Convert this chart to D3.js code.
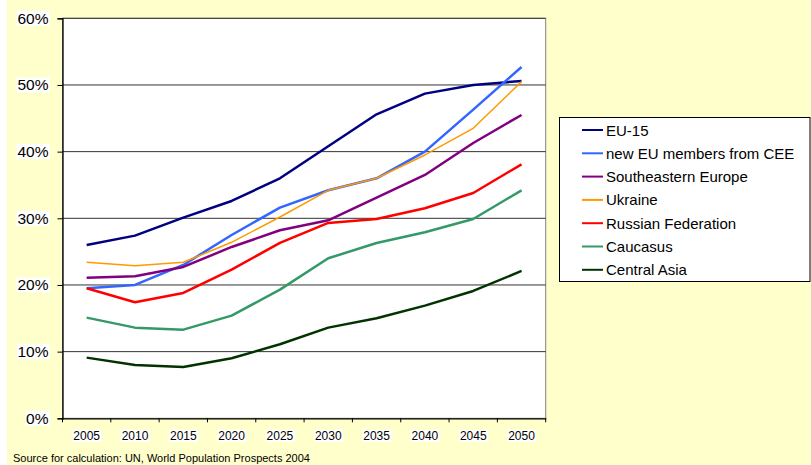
<!DOCTYPE html>
<html lang="en">
<head>
<meta charset="UTF-8">
<title>Population share chart</title>
<script src="https://d3js.org/d3.v7.min.js"></script>
<style>
  body { margin: 0; background: #fff; }
  svg { display: block; font-family: "Liberation Sans", Arial, sans-serif; }
</style>
</head>
<body>
<svg id="chart" width="811" height="465"></svg>
<script>
// data (percent)
const years = ["2005", "2010", "2015", "2020", "2025", "2030", "2035", "2040", "2045", "2050"];
const seriesNames = ["EU-15", "new EU members from CEE", "Southeastern Europe", "Ukraine",
                     "Russian Federation", "Caucasus", "Central Asia"];
const eu15        = [26.0, 27.4, 30.1, 32.6, 36.0, 40.8, 45.6, 48.7, 50.0, 50.6];
const newEU       = [19.5, 20.0, 23.0, 27.5, 31.6, 34.2, 36.0, 40.0, 46.3, 52.7];
const seEurope    = [21.1, 21.3, 22.7, 25.7, 28.2, 29.7, 33.1, 36.5, 41.3, 45.5];
const ukraine     = [23.4, 22.9, 23.4, 26.4, 30.2, 34.2, 36.0, 39.5, 43.5, 50.5];
const russia      = [19.5, 17.4, 18.8, 22.3, 26.3, 29.3, 29.9, 31.5, 33.8, 38.1];
const caucasus    = [15.1, 13.6, 13.3, 15.4, 19.3, 24.0, 26.3, 27.9, 29.9, 34.2];
const centralAsia = [9.1, 8.0, 7.7, 9.0, 11.1, 13.6, 15.0, 16.9, 19.1, 22.1];
const yTicks = [0, 10, 20, 30, 40, 50, 60];
const sourceNote = "Source for calculation: UN, World Population Prospects 2004";

const colors = ["#000080", "#3366FF", "#800080", "#FF9900", "#FF0000", "#339966", "#003300"];
const widths = [2.5, 2.5, 2.5, 1.5, 2.5, 2.5, 2.5];
const values = [eu15, newEU, seEurope, ukraine, russia, caucasus, centralAsia];
const series = seriesNames.map((name, i) => ({ name, color: colors[i], width: widths[i], values: values[i] }));

const svg = d3.select("#chart");
svg.append("rect").attr("x", 7).attr("y", 0).attr("width", 804).attr("height", 465).attr("fill", "#FFFFCC");

const pLeft = 62.5, pRight = 545.7, pTop = 18.3, pBottom = 418.3;
const x = d3.scaleBand().domain(years).range([pLeft, pRight]);
const y = d3.scaleLinear().domain([0, 60]).range([pBottom, pTop]);

// plot area
svg.append("rect").attr("x", pLeft).attr("y", pTop).attr("width", pRight - pLeft).attr("height", pBottom - pTop)
    .attr("fill", "#fff").attr("stroke", "#808080").attr("stroke-width", 1);

// gridlines
svg.append("g").selectAll("line").data(yTicks.slice(1)).enter().append("line")
    .attr("x1", pLeft).attr("x2", pRight).attr("y1", d => y(d)).attr("y2", d => y(d))
    .attr("stroke", "#333").attr("stroke-width", 1);

// y axis
const yAxis = svg.append("g").attr("transform", `translate(${pLeft},0)`)
    .call(d3.axisLeft(y).tickValues(yTicks).tickFormat(d => d + "%").tickSize(5).tickPadding(9));
yAxis.select(".domain").attr("stroke", "#000").attr("stroke-width", 1.3);
yAxis.selectAll("line").attr("stroke", "#000");
yAxis.selectAll("text").attr("font-size", 15.5).attr("fill", "#000")
    .attr("font-family", "Liberation Sans, Arial, sans-serif");

// x axis with ticks at band boundaries
const xAxis = svg.append("g").attr("transform", `translate(0,${pBottom})`)
    .call(d3.axisBottom(x).tickSize(0).tickPadding(13));
xAxis.select(".domain").attr("stroke", "#000").attr("stroke-width", 1.3);
xAxis.selectAll("text").attr("font-size", 12).attr("fill", "#000")
    .attr("font-family", "Liberation Sans, Arial, sans-serif");
xAxis.selectAll("line.bound").data(years.concat(["end"])).enter().append("line")
    .attr("class", "bound")
    .attr("x1", (d, i) => pLeft + i * x.bandwidth()).attr("x2", (d, i) => pLeft + i * x.bandwidth())
    .attr("y1", 0).attr("y2", 4).attr("stroke", "#000");

// white boxes behind tick labels
svg.selectAll(".tick text").each(function () {
    const b = this.getBBox();
    d3.select(this.parentNode).insert("rect", "text")
        .attr("x", b.x - 1).attr("y", b.y + 1).attr("width", b.width + 2).attr("height", b.height - 2)
        .attr("fill", "#fff");
});

// lines
const line = d3.line().x((d, i) => x(years[i]) + x.bandwidth() / 2).y(d => y(d));
svg.append("g").selectAll("path").data(series).enter().append("path")
    .attr("d", d => line(d.values)).attr("fill", "none")
    .attr("stroke", d => d.color).attr("stroke-width", d => d.width)
    .attr("stroke-linejoin", "round");

// legend
const legend = svg.append("g");
legend.append("rect").attr("x", 559.5).attr("y", 117.5).attr("width", 250.5).attr("height", 164)
    .attr("fill", "#fff").attr("stroke", "#000").attr("stroke-width", 1);
const items = legend.selectAll("g.item").data(series).enter().append("g")
    .attr("class", "item").attr("transform", (d, i) => `translate(0,${130 + i * 23.3})`);
items.append("line").attr("x1", 582).attr("x2", 603).attr("y1", 0).attr("y2", 0)
    .attr("stroke", d => d.color).attr("stroke-width", 2);
items.append("text").attr("x", 606).attr("y", 5.5).attr("font-size", 15).text(d => d.name);

// source
svg.append("text").attr("x", 13).attr("y", 462).attr("font-size", 11).text(sourceNote);
</script>
</body>
</html>
